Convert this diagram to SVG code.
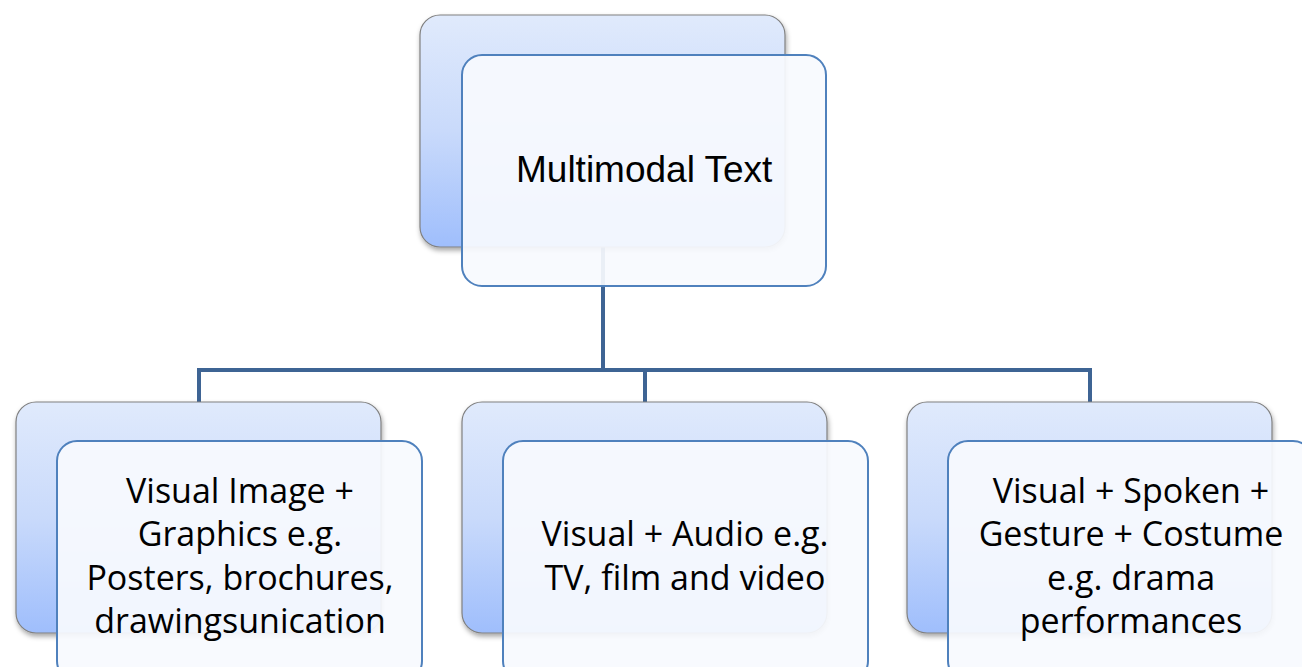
<svg xmlns="http://www.w3.org/2000/svg" width="1302" height="667" viewBox="0 0 1302 667">
<defs>
<linearGradient id="bg" x1="0" y1="0" x2="0" y2="1">
<stop offset="0" stop-color="#e0eafc"/>
<stop offset="0.5" stop-color="#c9dafb"/>
<stop offset="1" stop-color="#9fbefc"/>
</linearGradient>
<filter id="sh" x="-10%" y="-10%" width="125%" height="125%">
<feDropShadow dx="1" dy="3" stdDeviation="2.5" flood-color="#000" flood-opacity="0.35"/>
</filter>
<style>
.back{fill:url(#bg);stroke:#808080;stroke-width:1.2;filter:url(#sh)}
.front{fill:#f8fafe;fill-opacity:0.93;stroke:#4f81bd;stroke-width:2}
.conn{fill:none;stroke:#3e6494;stroke-width:4}
.t1{font-family:"Liberation Sans",Arial,sans-serif;font-size:37px;fill:#000}
.t2{font-family:"Open Sans","Noto Sans",sans-serif;font-size:34px;fill:#000;text-anchor:middle}
</style>
</defs>
<rect width="1302" height="667" fill="#fff"/>
<g id="connectors">
<path class="conn" d="M603,247 V370 M199,402 V370 H1090 V402 M645,370 V402"/>
</g>
<g id="node-top">
<rect class="back" x="420" y="15" width="365" height="232" rx="20"/>
<rect class="front" x="462" y="55" width="364" height="231" rx="20"/>
<text class="t1" x="516" y="182">Multimodal Text</text>
</g>
<g id="node-left">
<rect class="back" x="16" y="402" width="365" height="231" rx="20"/>
<rect class="front" x="57" y="441" width="365" height="240" rx="20"/>
<text class="t2"><tspan x="240" y="503">Visual Image +</tspan><tspan x="240" y="546">Graphics e.g.</tspan><tspan x="240" y="590">Posters, brochures,</tspan><tspan x="240" y="633">drawingsunication</tspan></text>
</g>
<g id="node-middle">
<rect class="back" x="462" y="402" width="365" height="231" rx="20"/>
<rect class="front" x="503" y="441" width="365" height="240" rx="20"/>
<text class="t2"><tspan x="685" y="546">Visual + Audio e.g.</tspan><tspan x="685" y="590">TV, film and video</tspan></text>
</g>
<g id="node-right">
<rect class="back" x="907" y="402" width="365" height="231" rx="20"/>
<rect class="front" x="948" y="441" width="365" height="240" rx="20"/>
<text class="t2"><tspan x="1131" y="503">Visual + Spoken +</tspan><tspan x="1131" y="546">Gesture + Costume</tspan><tspan x="1131" y="590">e.g. drama</tspan><tspan x="1131" y="633">performances</tspan></text>
</g>
</svg>
